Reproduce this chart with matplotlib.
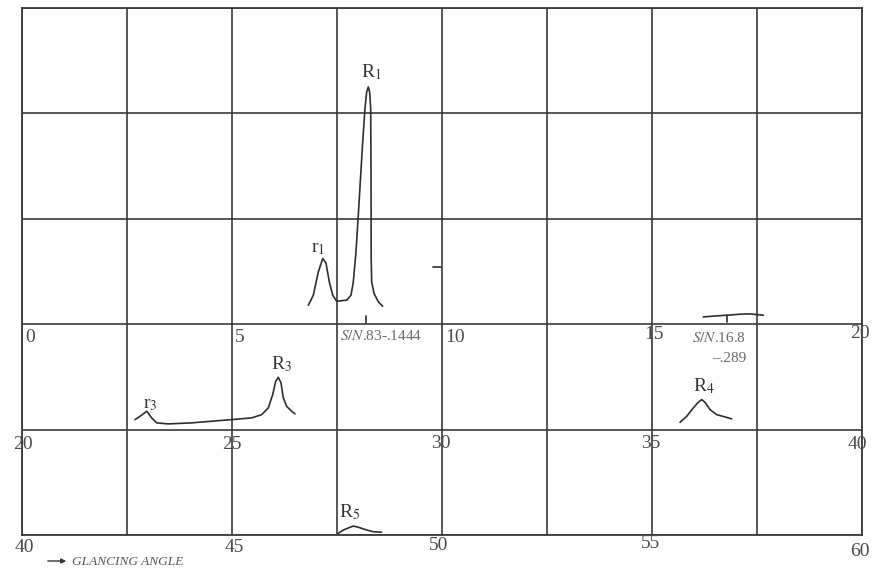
import matplotlib
matplotlib.use("Agg")
import matplotlib.pyplot as plt
import matplotlib.transforms as mtransforms
import matplotlib.patches as mpatches

plt.rcParams['font.family'] = ['Liberation Serif', 'DejaVu Serif']
plt.rcParams['mathtext.fontset'] = 'stix'

# ---------------- data ----------------
# three strips of the diffractogram: 0-20, 20-40, 40-60 degrees
strip_starts = [0, 20, 40]
strip_baselines = [2, 1, 0]          # grid row holding each strip's zero line
strip_tick_labels = [[0, 5, 10, 15, 20], [20, 25, 30, 35, 40], [40, 45, 50, 55, 60]]

# traces: glancing angle (deg) and intensity (grid rows)
r1R1_angle = [6.817, 6.936, 7.055, 7.160, 7.238, 7.317, 7.398, 7.493, 7.731, 7.833,
              7.888, 7.952, 8.007, 8.064, 8.112, 8.167, 8.205, 8.245, 8.278, 8.302,
              8.310, 8.314, 8.326, 8.381, 8.483, 8.588]
r1R1_int = [0.180, 0.275, 0.496, 0.623, 0.579, 0.401, 0.275, 0.218, 0.228, 0.275,
            0.401, 0.686, 1.034, 1.414, 1.730, 2.049, 2.200, 2.251, 2.200, 2.049,
            1.414, 0.626, 0.401, 0.294, 0.212, 0.171]

sn168_angle = [16.22, 16.54, 16.79, 17.10, 17.33, 17.65]
sn168_int = [0.069, 0.079, 0.085, 0.095, 0.098, 0.085]

r3R3_angle = [22.690, 22.810, 22.969, 23.088, 23.207, 23.483, 24.040, 24.993, 25.469,
              25.707, 25.864, 25.969, 26.040, 26.102, 26.167, 26.221, 26.302, 26.421,
              26.500]
r3R3_int = [0.095, 0.126, 0.174, 0.111, 0.064, 0.054, 0.064, 0.095, 0.111,
            0.142, 0.206, 0.332, 0.458, 0.496, 0.443, 0.301, 0.221, 0.174,
            0.149]

R4_angle = [35.667, 35.826, 35.983, 36.102, 36.183, 36.262, 36.381, 36.540, 36.738, 36.898]
R4_int = [0.069, 0.126, 0.206, 0.259, 0.285, 0.259, 0.190, 0.142, 0.120, 0.102]

R5_angle = [47.53, 47.65, 47.81, 47.89, 48.01, 48.21, 48.36, 48.56]
R5_int = [0.016, 0.047, 0.073, 0.085, 0.073, 0.047, 0.031, 0.026]

# small marks
R1_marker_angle = [8.19, 8.19]
R1_marker_int = [0.007, 0.076]
sn168_marker_angle = [16.79, 16.79]
sn168_marker_int = [0.022, 0.085]
stray_dash_angle = [9.79, 9.98]
stray_dash_int = [0.54, 0.54]

# peak labels
peak_names = ['R$_1$', 'r$_1$', 'r$_3$', 'R$_3$', 'R$_4$', 'R$_5$']
peak_label_angle = [8.31, 7.05, 23.05, 26.19, 36.24, 47.81]
peak_label_int = [2.39, 0.72, 0.237, 0.617, 0.408, 0.218]

# ---------------- figure ----------------
W, H = 872, 569
fig = plt.figure(figsize=(W / 100, H / 100), dpi=100)
fig.patch.set_facecolor('white')
L, R, T, B = 22, 862, 8, 535
ax = fig.add_axes([L / W, 1 - B / H, (R - L) / W, (B - T) / H])
ax.set_xlim(0, 20)
ax.set_ylim(0, 5)
gridc = '#3a3a3a'
ax.set_xticks([i * 2.5 for i in range(9)])
ax.set_yticks(range(6))
ax.grid(True, color=gridc, lw=1.2)
ax.tick_params(length=0, labelbottom=False, labelleft=False)
for s in ax.spines.values():
    s.set_color(gridc)
    s.set_linewidth(1.3)


def to_xy(angles, ints, k):
    x = [a - strip_starts[k] for a in angles]
    y = [strip_baselines[k] + v for v in ints]
    return x, y


tracec = '#2e2e2e'
for ang, inten, k in [(r1R1_angle, r1R1_int, 0), (sn168_angle, sn168_int, 0),
                      (r3R3_angle, r3R3_int, 1), (R4_angle, R4_int, 1),
                      (R5_angle, R5_int, 2), (R1_marker_angle, R1_marker_int, 0),
                      (sn168_marker_angle, sn168_marker_int, 0),
                      (stray_dash_angle, stray_dash_int, 0)]:
    x, y = to_xy(ang, inten, k)
    ax.plot(x, y, color=tracec, lw=1.2, solid_capstyle='round', solid_joinstyle='round')

for name, a, v in zip(peak_names, peak_label_angle, peak_label_int):
    k = 0 if a < 20 else (1 if a < 40 else 2)
    x, y = to_xy([a], [v], k)
    ax.text(x[0], y[0], name, ha='center', va='center', fontsize=14, color='#333333')


def offs(dx, dy):
    return ax.transData + mtransforms.ScaledTranslation(dx / 100, -dy / 100, fig.dpi_scale_trans)


# tick labels with small per-label pixel offsets (scan placement)
label_dx = [[8, 8, 13, 2, -2], [1, 0, -1, -1, -5], [2, 2, -3, -2, -2]]
label_dy = [[13, 13, 13, 10, 9], [15, 15, 14, 14, 15], [13, 13, 11, 9, 17]]
for k in range(3):
    for j, lab in enumerate(strip_tick_labels[k]):
        ax.text(lab - strip_starts[k], strip_baselines[k], str(lab),
                transform=offs(label_dx[k][j], label_dy[k][j]),
                ha='center', va='center', fontsize=14, color='#4a4a4a', clip_on=False)

# S/N annotations
ax.text(7.57, 2, r'$\mathit{S/N}$.83-.1444', transform=offs(0, 12), ha='left', va='center',
        fontsize=11, color='#6a6a6a')
ax.text(17.24, 2, r'$\mathit{S/N}$.16.8', transform=offs(0, 14), ha='right', va='center',
        fontsize=11, color='#6a6a6a')
ax.text(17.24, 2, '\u2013.289', transform=offs(0, 34), ha='right', va='center',
        fontsize=11, color='#6a6a6a')

# glancing angle caption
fig.text(72 / W, 1 - 562 / H, 'GLANCING ANGLE', ha='left', va='center', fontsize=9.6,
         style='italic', color='#555555')
fig.patches.append(mpatches.FancyArrowPatch(
    (45 / W, 1 - 561 / H), (69 / W, 1 - 561 / H), transform=fig.transFigure,
    arrowstyle='-|>', mutation_scale=7, color='#333333', lw=1.0))

fig.savefig('out.png', dpi=100, facecolor='white')
